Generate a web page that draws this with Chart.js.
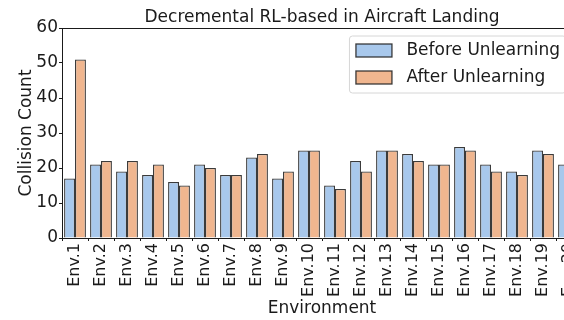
<!DOCTYPE html>
<html>
<head>
<meta charset="utf-8">
<script src="https://cdn.jsdelivr.net/npm/chart.js@4/dist/chart.umd.min.js"></script>
<style>
  html, body { margin: 0; padding: 0; background: #ffffff; overflow: hidden; }
  #wrap { width: 564px; height: 320px; overflow: hidden; position: relative; }
  canvas { display: block; }
</style>
</head>
<body>
<div id="wrap"><canvas id="c" width="640" height="320"></canvas></div>
<script>
// Collision counts per environment, before and after decremental unlearning
const environments = ['Env.1','Env.2','Env.3','Env.4','Env.5','Env.6','Env.7','Env.8','Env.9','Env.10',
                      'Env.11','Env.12','Env.13','Env.14','Env.15','Env.16','Env.17','Env.18','Env.19','Env.20'];
const beforeUnlearning = [17, 21, 19, 18, 16, 21, 18, 23, 17, 25, 15, 22, 25, 24, 21, 26, 21, 19, 25, 21];
const afterUnlearning  = [51, 22, 22, 21, 15, 20, 18, 24, 19, 25, 14, 19, 25, 22, 21, 25, 19, 18, 24, 20];
const yTicks = [0, 10, 20, 30, 40, 50, 60];

const FONT = 'DejaVu Sans';
const INK = '#1a1a1a';
const EDGE = 'rgba(38,38,38,0.9)';

// Top spine plus a framed legend in the upper right corner of the plot
const frameAndLegend = {
  id: 'frameAndLegend',
  afterDraw(chart) {
    const {ctx, chartArea: a} = chart;
    ctx.save();
    ctx.strokeStyle = INK;
    ctx.lineWidth = 1;
    ctx.beginPath();
    ctx.moveTo(a.left, a.top + 0.5);
    ctx.lineTo(a.right, a.top + 0.5);
    ctx.moveTo(a.right - 0.5, a.top);
    ctx.lineTo(a.right - 0.5, a.bottom);
    ctx.stroke();

    const fs = 17;
    ctx.font = fs + 'px "' + FONT + '"';
    const sets = chart.data.datasets;
    const textW = Math.max(...sets.map(d => ctx.measureText(d.label).width));
    const handleW = 36, handleH = 13, pad = 6, gap = 15;
    const boxW = pad + handleW + gap + textW + pad;
    const boxH = 57;
    const x0 = a.right - 16 - boxW;
    const y0 = a.top + 8;
    // rounded frame
    const r = 3;
    ctx.beginPath();
    ctx.moveTo(x0 + r, y0);
    ctx.lineTo(x0 + boxW - r, y0);
    ctx.quadraticCurveTo(x0 + boxW, y0, x0 + boxW, y0 + r);
    ctx.lineTo(x0 + boxW, y0 + boxH - r);
    ctx.quadraticCurveTo(x0 + boxW, y0 + boxH, x0 + boxW - r, y0 + boxH);
    ctx.lineTo(x0 + r, y0 + boxH);
    ctx.quadraticCurveTo(x0, y0 + boxH, x0, y0 + boxH - r);
    ctx.lineTo(x0, y0 + r);
    ctx.quadraticCurveTo(x0, y0, x0 + r, y0);
    ctx.closePath();
    ctx.fillStyle = 'rgba(255,255,255,0.8)';
    ctx.fill();
    ctx.strokeStyle = '#d6d6d6';
    ctx.lineWidth = 1;
    ctx.stroke();

    sets.forEach((d, i) => {
      const cy = y0 + 14 + i * 27;
      ctx.fillStyle = d.backgroundColor;
      ctx.fillRect(x0 + pad + 0.5, cy - handleH / 2 + 0.5, handleW, handleH);
      ctx.strokeStyle = EDGE;
      ctx.lineWidth = 1.3;
      ctx.strokeRect(x0 + pad + 0.5, cy - handleH / 2 + 0.5, handleW, handleH);
      ctx.fillStyle = INK;
      ctx.textAlign = 'left';
      ctx.textBaseline = 'middle';
      ctx.fillText(d.label, x0 + pad + handleW + gap, cy + 1);
    });
    ctx.restore();
  }
};

new Chart(document.getElementById('c'), {
  type: 'bar',
  data: {
    labels: environments,
    datasets: [
      { label: 'Before Unlearning', data: beforeUnlearning,
        backgroundColor: '#a8c8ec', borderColor: EDGE, borderWidth: 1.3,
        categoryPercentage: 0.84, barPercentage: 1.0 },
      { label: 'After Unlearning', data: afterUnlearning,
        backgroundColor: '#f0b68f', borderColor: EDGE, borderWidth: 1.3,
        categoryPercentage: 0.84, barPercentage: 1.0 }
    ]
  },
  options: {
    responsive: false,
    animation: false,
    devicePixelRatio: 1,
    layout: { padding: { left: 0, right: 58, top: 0, bottom: 0 } },
    plugins: {
      legend: { display: false },
      tooltip: { enabled: false },
      title: {
        display: true,
        fullSize: false,
        text: 'Decremental RL-based in Aircraft Landing',
        color: INK,
        font: { family: FONT, size: 17, weight: 'normal' },
        padding: { top: 7, bottom: 0.6 }
      }
    },
    scales: {
      x: {
        offset: true,
        grid: { display: true, drawOnChartArea: false, drawTicks: true, tickLength: 3, color: INK },
        border: { display: true, color: INK, width: 1 },
        ticks: {
          autoSkip: false, maxRotation: 90, minRotation: 90, padding: 2,
          color: INK, font: { family: FONT, size: 16 }
        },
        title: {
          display: true, text: 'Environment', color: INK,
          font: { family: FONT, size: 17 }, padding: { top: 0, bottom: 1 }
        },
        afterFit(scale) { scale.height = 82; }
      },
      y: {
        min: 0, max: 60,
        afterBuildTicks(scale) { scale.ticks = yTicks.map(v => ({ value: v })); },
        grid: { display: true, drawOnChartArea: false, drawTicks: true, tickLength: 3, color: INK },
        border: { display: true, color: INK, width: 1 },
        ticks: { padding: 1, color: INK, font: { family: FONT, size: 17 } },
        title: {
          display: true, text: 'Collision Count', color: INK,
          font: { family: FONT, size: 17 }, padding: { top: 16, bottom: 0 }
        },
        afterFit(scale) { scale.width = 62; }
      }
    }
  },
  plugins: [frameAndLegend]
});
</script>
</body>
</html>
